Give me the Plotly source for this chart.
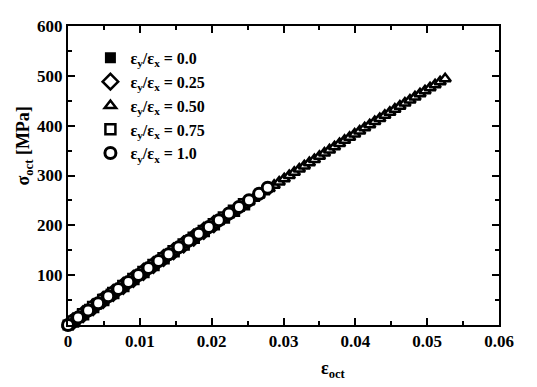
import plotly.graph_objects as go

# ---- data ----
tri_x = [0.0, 0.0007, 0.0014, 0.0021, 0.0028, 0.0035, 0.0042, 0.0049, 0.0056, 0.0063,
         0.0070, 0.0077, 0.0084, 0.0091, 0.0098, 0.0105, 0.0112, 0.0119, 0.0126, 0.0133,
         0.0140, 0.0147, 0.0154, 0.0161, 0.0168, 0.0175, 0.0182, 0.0189, 0.0196, 0.0203,
         0.0210, 0.0217, 0.0224, 0.0231, 0.0238, 0.0245, 0.0252, 0.0259, 0.0266, 0.0273,
         0.0280, 0.0287, 0.0294, 0.0301, 0.0308, 0.0315, 0.0322, 0.0329, 0.0336, 0.0343,
         0.0350, 0.0357, 0.0364, 0.0371, 0.0378, 0.0385, 0.0392, 0.0399, 0.0406, 0.0413,
         0.0420, 0.0427, 0.0434, 0.0441, 0.0448, 0.0455, 0.0462, 0.0469, 0.0476, 0.0483,
         0.0490, 0.0497, 0.0504, 0.0511, 0.0518, 0.0525]
tri_y = [0.0, 7.1, 14.3, 21.4, 28.4, 35.5, 42.6, 49.6, 56.7, 63.7,
         70.7, 77.7, 84.6, 91.6, 98.5, 105.5, 112.4, 119.3, 126.1, 133.0,
         139.9, 146.7, 153.5, 160.3, 167.1, 173.9, 180.7, 187.4, 194.2, 200.9,
         207.6, 214.3, 221.0, 227.6, 234.3, 240.9, 247.5, 254.1, 260.7, 267.3,
         273.8, 280.4, 286.9, 293.4, 299.9, 306.4, 312.9, 319.3, 325.8, 332.2,
         338.6, 345.0, 351.4, 357.8, 364.1, 370.5, 376.8, 383.1, 389.4, 395.7,
         401.9, 408.2, 414.4, 420.7, 426.9, 433.1, 439.2, 445.4, 451.5, 457.7,
         463.8, 469.9, 476.0, 482.1, 488.1, 494.2]

circ_x = [0.0, 0.0014, 0.0028, 0.0042, 0.0056, 0.0070, 0.0084, 0.0098, 0.0112, 0.0126,
          0.0140, 0.0154, 0.0168, 0.0182, 0.0196, 0.0210, 0.0224, 0.0238, 0.0252, 0.0266,
          0.0278]
circ_y = [0.0, 14.8, 29.2, 43.5, 57.8, 72.0, 86.2, 100.3, 114.3, 128.2,
          142.0, 155.8, 169.5, 183.1, 196.7, 210.2, 223.6, 236.9, 250.2, 263.4,
          275.5]

dia_x = [0.0007, 0.0021, 0.0035, 0.0049, 0.0063, 0.0077, 0.0091, 0.0105, 0.0119, 0.0133,
         0.0147, 0.0161, 0.0175, 0.0189, 0.0203]
dia_y = [7.2, 21.7, 36.0, 50.3, 64.5, 78.6, 92.6, 106.6, 120.5, 134.4,
         148.1, 161.8, 175.4, 189.0, 202.5]

sqo_x = [0.0007, 0.0021, 0.0035, 0.0049, 0.0063, 0.0077, 0.0091, 0.0105, 0.0119, 0.0133,
         0.0147, 0.0161, 0.0175, 0.0189, 0.0203, 0.0217, 0.0231, 0.0245]
sqo_y = [7.2, 21.6, 35.9, 50.1, 64.3, 78.4, 92.4, 106.4, 120.3, 134.1,
         147.9, 161.6, 175.2, 188.8, 202.3, 215.7, 229.1, 242.4]

sqf_x = [0.0, 0.0010, 0.0020, 0.0030, 0.0040, 0.0050, 0.0060]
sqf_y = [0.0, 10.5, 21.0, 31.4, 41.8, 52.1, 62.4]

labels = ["ε<sub>y</sub>/ε<sub>x</sub> = 0.0", "ε<sub>y</sub>/ε<sub>x</sub> = 0.25",
          "ε<sub>y</sub>/ε<sub>x</sub> = 0.50", "ε<sub>y</sub>/ε<sub>x</sub> = 0.75",
          "ε<sub>y</sub>/ε<sub>x</sub> = 1.0"]

FONT = "Liberation Serif"
fig = go.Figure()

def add(x, y, sym, fill, name, rank, size, lw):
    fig.add_trace(go.Scatter(
        x=x, y=y, mode="markers", name=name, legendrank=rank, cliponaxis=False,
        marker=dict(symbol=sym, size=size, color=fill,
                    line=dict(color="black", width=lw))))

add(sqf_x, sqf_y, "square", "black", labels[0], 1, 9, 2)
add(dia_x, dia_y, "diamond", "white", labels[1], 2, 12, 2.5)
add(sqo_x, sqo_y, "square", "white", labels[3], 4, 10, 2.5)
add(tri_x, tri_y, "triangle-up", "white", labels[2], 3, 10, 2.5)
add(circ_x, circ_y, "circle", "white", labels[4], 5, 11, 3)

axis_common = dict(showline=True, linecolor="black", linewidth=2, mirror="ticks",
                   ticks="inside", ticklen=7, tickwidth=1.5, tickcolor="black",
                   showgrid=False, zeroline=False,
                   tickfont=dict(family=FONT, size=17, color="black", weight="bold"))

fig.update_xaxes(range=[0, 0.06], tickvals=[0, 0.01, 0.02, 0.03, 0.04, 0.05, 0.06],
                 ticktext=["0", "0.01", "0.02", "0.03", "0.04", "0.05", "0.06"],
                 minor=dict(ticks="inside", ticklen=4, tickcolor="black", dtick=0.005, tick0=0),
                 **axis_common)
fig.update_yaxes(range=[0, 600], tickvals=[0, 100, 200, 300, 400, 500, 600],
                 ticktext=["", "100", "200", "300", "400", "500", "600"],
                 minor=dict(ticks="inside", ticklen=4, tickcolor="black", dtick=50, tick0=0),
                 **axis_common)

fig.add_annotation(text="ε<sub>oct</sub>", xref="paper", yref="paper", x=0.615, y=-0.15,
                   showarrow=False, yanchor="middle",
                   font=dict(family=FONT, size=18, color="black", weight="bold"))
fig.add_annotation(text="σ<sub>oct</sub> [MPa]", xref="paper", yref="paper", x=-0.1, y=0.6,
                   showarrow=False, textangle=-90, xanchor="center", yanchor="middle",
                   font=dict(family=FONT, size=18, color="black", weight="bold"))

fig.update_layout(
    width=537, height=387, paper_bgcolor="white", plot_bgcolor="white",
    margin=dict(l=68, r=38, t=26, b=62),
    showlegend=True,
    legend=dict(x=0.052, y=0.95, xanchor="left", yanchor="top", bgcolor="rgba(0,0,0,0)",
                font=dict(family=FONT, size=16, color="black", weight="bold"),
                itemwidth=30, tracegroupgap=0),
)
fig.write_html("out.html")
